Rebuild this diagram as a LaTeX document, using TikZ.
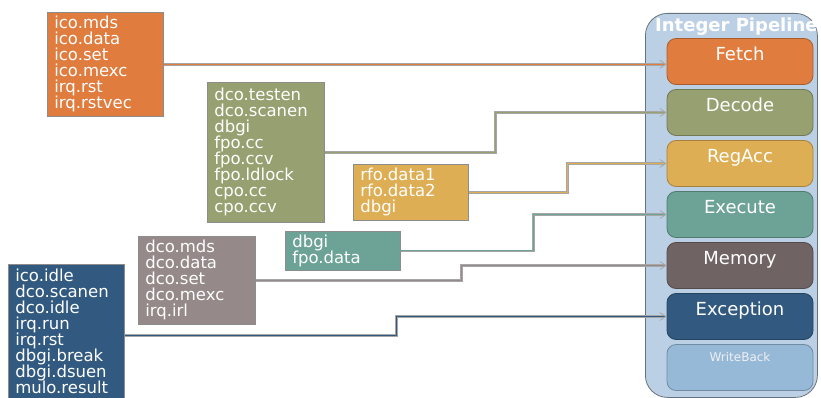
\documentclass[tikz,border=0pt]{standalone}
\usepackage{fontspec}
\setmainfont{DejaVu Sans}
\usetikzlibrary{arrows.meta}

\definecolor{cIco}{RGB}{224,124,62}
\definecolor{cDec}{RGB}{151,160,112}
\definecolor{cReg}{RGB}{222,174,84}
\definecolor{cExe}{RGB}{108,163,150}
\definecolor{cMem}{RGB}{150,137,137}
\definecolor{cExc}{RGB}{50,90,128}
\definecolor{cMemSt}{RGB}{112,99,99}
\definecolor{cWrite}{RGB}{150,185,215}
\definecolor{cPipe}{RGB}{188,208,229}

\begin{document}
\begin{tikzpicture}[x=1pt,y=-1pt,
  sigbox/.style={draw=black!45, line width=0.6pt, fill=#1, text=white, anchor=north west,
    align=left, inner xsep=7pt, inner ysep=2pt, font=\fontsize{16.5}{16}\selectfont},
  stagebox/.style={draw=#1!75!black, fill=#1, line width=0.8pt, rounded corners=9pt,
    minimum width=146pt, inner ysep=3pt, text height=19pt, text depth=21pt,
    text=white, font=\fontsize{18}{18}\selectfont},
  link/.style={draw=black!35, double=#1, double distance=0.9pt, line width=0.8pt,
    -{Straight Barb[length=6pt,width=8pt]}}]

\useasboundingbox (0,0) rectangle (821,398);
\clip (0,0) rectangle (821,398);

% pipeline
\node[draw=cPipe!55!black, fill=cPipe, line width=0.8pt, rounded corners=22pt, anchor=north west,
  minimum width=172pt, minimum height=384pt] (pipe) at (645,13) {};
\node[anchor=base west, inner sep=0pt, text=white, font=\bfseries\fontsize{18}{18}\selectfont]
  (pipetitle) at (655,32) {Integer Pipeline};

\foreach \n/\t/\c [count=\i from 0] in {fetch/Fetch/cIco, decode/Decode/cDec, regacc/RegAcc/cReg,
    execute/Execute/cExe, memory/Memory/cMemSt, exception/Exception/cExc}
  \node[stagebox=\c] (\n) at (740,61.5+51*\i) {\t};
\node[stagebox=cWrite, text height=13.5pt, text depth=26.5pt, text=white!88!gray,
  font=\fontsize{12}{12}\selectfont] (writeback) at (740,367.5) {WriteBack};

% signal groups
\node[sigbox=cIco, text width=102pt, minimum height=104pt] (fetchin) at (47,12)
  {ico.mds\\ico.data\\ico.set\\ico.mexc\\irq.rst\\irq.rstvec};
\node[sigbox=cDec, text width=103pt, minimum height=140pt] (decin) at (207,82)
  {dco.testen\\dco.scanen\\dbgi\\fpo.cc\\fpo.ccv\\fpo.ldlock\\cpo.cc\\cpo.ccv};
\node[sigbox=cReg, text width=101pt, minimum height=56pt] (regin) at (353,164)
  {rfo.data1\\rfo.data2\\dbgi};
\node[sigbox=cExe, text width=101pt, minimum height=39pt] (exin) at (285,231)
  {dbgi\\fpo.data};
\node[sigbox=cMem, text width=103pt, minimum height=88pt] (memin) at (138,236)
  {dco.mds\\dco.data\\dco.set\\dco.mexc\\irq.irl};
\node[sigbox=cExc, text width=102pt, minimum height=134pt] (excin) at (8,264)
  {ico.idle\\dco.scanen\\dco.idle\\irq.run\\irq.rst\\dbgi.break\\dbgi.dsuen\\mulo.result};

% connections
\draw[link=cIco] (fetchin) -- (fetchin -| fetch.west);
\draw[link=cDec] (decin.east) -- ++(171,0) |- (decode.west);
\draw[link=cReg] (regin.east) -- ++(99,0) |- (regacc.west);
\draw[link=cExe] (exin.east) -- ++(133,0) |- (execute.west);
\draw[link=cMem] (memin.east) -- ++(206,0) |- (memory.west);
\draw[link=cExc] ([yshift=-4pt]excin.east) -- ++(272,0) |- (exception.west);
\end{tikzpicture}
\end{document}
